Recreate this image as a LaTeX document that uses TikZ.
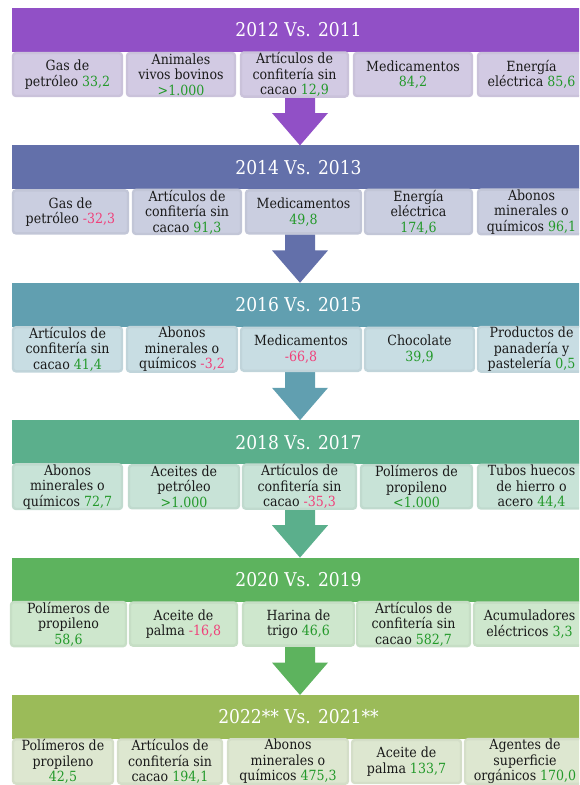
\documentclass[tikz,border=0pt]{standalone}
\usepackage{fontspec}
\setmainfont{DejaVu Serif Condensed}
\usetikzlibrary{calc}
\definecolor{cA}{HTML}{9150C6}
\definecolor{cB}{HTML}{6370AA}
\definecolor{cC}{HTML}{619FB0}
\definecolor{cD}{HTML}{5BAF8C}
\definecolor{cE}{HTML}{5DB35E}
\definecolor{cF}{HTML}{9BBB59}
\definecolor{fA}{HTML}{D2CAE3}
\definecolor{fB}{HTML}{CACEE0}
\definecolor{fC}{HTML}{C8DDE3}
\definecolor{fD}{HTML}{C8E3D7}
\definecolor{fE}{HTML}{CEE7CD}
\definecolor{fF}{HTML}{DDE7D0}
\definecolor{txt}{HTML}{1A1A1A}
\definecolor{numgreen}{HTML}{23992A}
\definecolor{numpink}{HTML}{F0407A}
\newcommand\numg[1]{\textcolor{numgreen}{#1}}
\newcommand\numr[1]{\textcolor{numpink}{#1}}
\tikzset{
  hdr/.style={rectangle, inner sep=0pt, minimum width=573pt, minimum height=44pt, text=white, font=\fontsize{19}{22}\selectfont},
  itm/.style={rectangle, rounded corners=3pt, line width=2.4pt, inner sep=0pt, minimum height=43pt, align=center, text=txt, font=\fontsize{14}{15.5}\selectfont},
}
\newcommand\mybox[6]{%
  \pgfmathsetmacro\bxc{(#3+#4)/2}\pgfmathsetmacro\bxw{#4-#3}%
  \node[itm, fill=#2, draw=#2!96!black, minimum width=\bxw pt] (#1) at (\bxc,#5) {#6};}
\newcommand\myarrow[4]{% name, colour, start y, end y
  \coordinate (#1s) at (300,#3);
  \coordinate (#1e) at (300,#4);
  \fill[#2] ($(#1s)+(-15,0)$) -- ($(#1s)+(-15,16)$) -- ($(#1s)+(-28,16)$) -- (#1e)
     -- ($(#1s)+(28,16)$) -- ($(#1s)+(15,16)$) -- ($(#1s)+(15,0)$) -- cycle;}
\begin{document}
\begin{tikzpicture}[x=1pt,y=-1pt]
\useasboundingbox (0,0) rectangle (579,785);
\clip (0,0) rectangle (579,785);
% headers
\node[hdr, fill=cA] (h1) at (298.5,30) {2012 Vs. 2011};
\node[hdr, fill=cB] (h2) at (298.5,167.4) {2014 Vs. 2013};
\node[hdr, fill=cC] (h3) at (298.5,304.8) {2016 Vs. 2015};
\node[hdr, fill=cD] (h4) at (298.5,442.2) {2018 Vs. 2017};
\node[hdr, fill=cE] (h5) at (298.5,579.6) {2020 Vs. 2019};
\node[hdr, fill=cF] (h6) at (298.5,717) {2022** Vs. 2021**};
% arrows
\myarrow{a1}{cA}{97}{145.4}
\myarrow{a2}{cB}{234.4}{282.8}
\myarrow{a3}{cC}{371.8}{420.2}
\myarrow{a4}{cD}{509.2}{557.6}
\myarrow{a5}{cE}{646.6}{695}
% band 1
\mybox{b1a}{fA}{13}{122}{74.5}{Gas de\\petróleo \numg{33,2}}
\mybox{b1b}{fA}{127}{235}{74.5}{Animales\\vivos bovinos\\\numg{>1.000}}
\mybox{b1c}{fA}{241}{348}{74.5}{Artículos de\\confitería sin\\cacao \numg{12,9}}
\mybox{b1d}{fA}{354}{472}{74.5}{Medicamentos\\\numg{84,2}}
\mybox{b1e}{fA}{478}{585}{74.5}{Energía\\eléctrica \numg{85,6}}
% band 2
\mybox{b2a}{fB}{13}{128}{211.9}{Gas de\\petróleo \numr{-32,3}}
\mybox{b2b}{fB}{133}{241}{211.9}{Artículos de\\confitería sin\\cacao \numg{91,3}}
\mybox{b2c}{fB}{246}{361}{211.9}{Medicamentos\\\numg{49,8}}
\mybox{b2d}{fB}{365}{472}{211.9}{Energía\\eléctrica\\\numg{174,6}}
\mybox{b2e}{fB}{478}{585}{211.9}{Abonos\\minerales o\\químicos \numg{96,1}}
% band 3
\mybox{b3a}{fC}{13}{122}{349.3}{Artículos de\\confitería sin\\cacao \numg{41,4}}
\mybox{b3b}{fC}{127}{237}{349.3}{Abonos\\minerales o\\químicos \numr{-3,2}}
\mybox{b3c}{fC}{241}{361}{349.3}{Medicamentos\\\numr{-66,8}}
\mybox{b3d}{fC}{365}{474}{349.3}{Chocolate\\\numg{39,9}}
\mybox{b3e}{fC}{478}{585}{349.3}{Productos de\\panadería y\\pastelería \numg{0,5}}
% band 4
\mybox{b4a}{fD}{13}{122}{486.7}{Abonos\\minerales o\\químicos \numg{72,7}}
\mybox{b4b}{fD}{129}{239}{486.7}{Aceites de\\petróleo\\\numg{>1.000}}
\mybox{b4c}{fD}{243}{356}{486.7}{Artículos de\\confitería sin\\cacao \numr{-35,3}}
\mybox{b4d}{fD}{361}{472}{486.7}{Polímeros de\\propileno\\\numg{<1.000}}
\mybox{b4e}{fD}{478}{585}{486.7}{Tubos huecos\\de hierro o\\acero \numg{44,4}}
% band 5
\mybox{b5a}{fE}{11}{126}{624.1}{Polímeros de\\propileno\\\numg{58,6}}
\mybox{b5b}{fE}{130}{237}{624.1}{Aceite de\\palma \numr{-16,8}}
\mybox{b5c}{fE}{243}{354}{624.1}{Harina de\\trigo \numg{46,6}}
\mybox{b5d}{fE}{357}{470}{624.1}{Artículos de\\confitería sin\\cacao \numg{582,7}}
\mybox{b5e}{fE}{474}{585}{624.1}{Acumuladores\\eléctricos \numg{3,3}}
% band 6
\mybox{b6a}{fF}{13}{113}{761.5}{Polímeros de\\propileno\\\numg{42,5}}
\mybox{b6b}{fF}{118}{222}{761.5}{Artículos de\\confitería sin\\cacao \numg{194,1}}
\mybox{b6c}{fF}{228}{348}{761.5}{Abonos\\minerales o\\químicos \numg{475,3}}
\mybox{b6d}{fF}{352}{461}{761.5}{Aceite de\\palma \numg{133,7}}
\mybox{b6e}{fF}{465}{585}{761.5}{Agentes de\\superficie\\orgánicos \numg{170,0}}
\end{tikzpicture}
\end{document}
